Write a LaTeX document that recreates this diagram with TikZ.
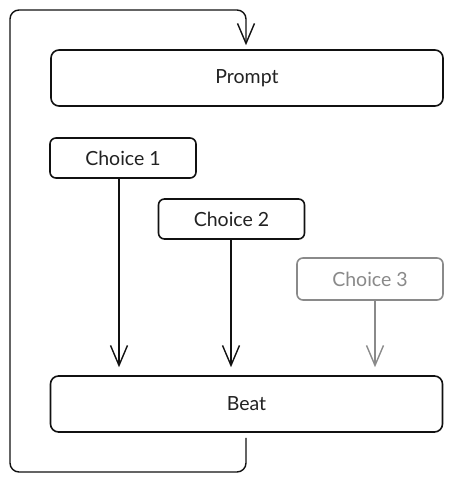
\documentclass[tikz,border=0pt]{standalone}
\usepackage{fontspec}
\setmainfont{Lato}
\usetikzlibrary{arrows.meta}
\definecolor{ink}{HTML}{111111}
\definecolor{txt}{HTML}{222222}
\definecolor{faded}{HTML}{8A8A8A}
\tikzset{
  box/.style={draw=ink, line width=1.6pt, rounded corners=8pt, fill=white,
    text=txt, font=\fontsize{19.5}{23}\selectfont, inner sep=0pt},
  wide/.style={box, minimum width=392pt, minimum height=56pt},
  choice/.style={box, rounded corners=6pt, minimum width=146pt, minimum height=40pt},
  dim/.style={draw=faded, text=faded},
  flow/.style={line width=1.4pt, draw=ink, -{Straight Barb[length=20pt, width=17pt, line width=1.4pt]}},
}
\begin{document}
\begin{tikzpicture}[x=1pt, y=-1pt]
  \useasboundingbox (0,0) rectangle (452,482);

  \node[wide] (prompt) at (247,78) {Prompt};
  \node[wide] (beat) at (246.5,404) {Beat};

  \node[choice] (c1) at (123,158) {Choice 1};
  \node[choice] (c2) at (231.5,219) {Choice 2};
  \node[choice, dim, minimum height=42pt] (c3) at (370,279) {Choice 3};

  % choices feed into the beat
  \draw[flow, shorten >=8pt] ([xshift=-4pt]c1.south) -- ([xshift=-4pt]c1.south |- beat.north);
  \draw[flow, shorten >=8pt] ([xshift=-0.5pt]c2.south) -- ([xshift=-0.5pt]c2.south |- beat.north);
  \draw[flow, faded, shorten >=8pt, -{Straight Barb[length=20pt, width=17pt, line width=1.4pt]}]
    ([xshift=5pt]c3.south) -- ([xshift=5pt]c3.south |- beat.north);

  % loop from the beat back up to the prompt
  \draw[flow, rounded corners=9pt, shorten <=5pt, shorten >=4pt]
    ([xshift=-0.5pt]beat.south) |- (10,472) |- (246,10) -- ([xshift=-1pt]prompt.north);
\end{tikzpicture}
\end{document}
